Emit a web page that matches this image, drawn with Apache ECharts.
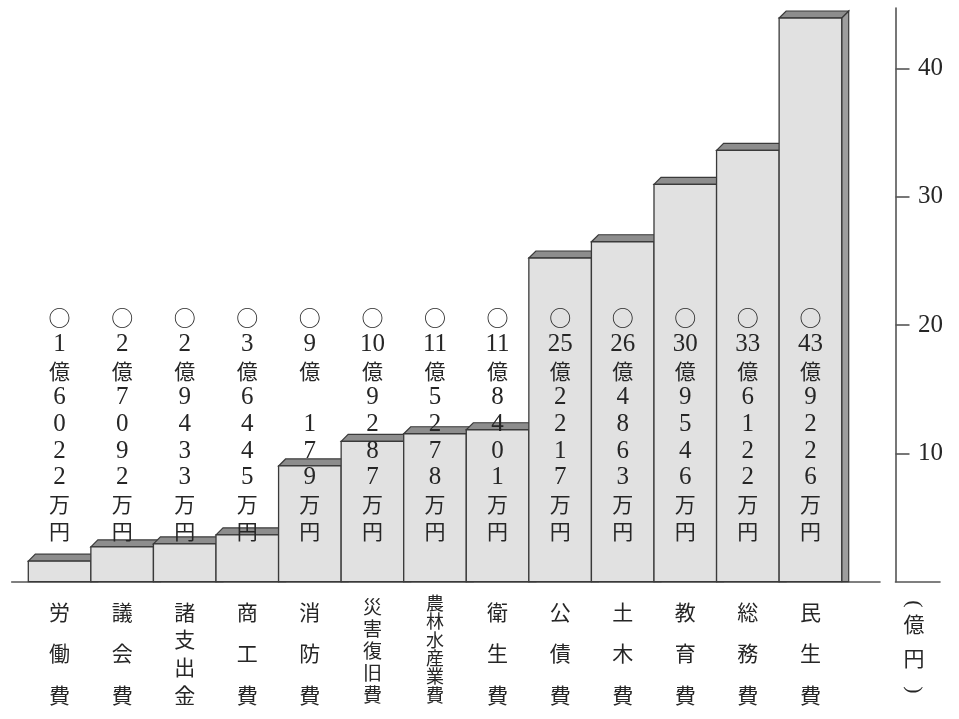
<!DOCTYPE html>
<html><head><meta charset="utf-8">
<script src="https://cdn.jsdelivr.net/npm/echarts@6/dist/echarts.min.js"></script>
<style>html,body{margin:0;padding:0;background:#fff}#c{width:959px;height:719px}</style>
</head><body><div id="c"></div>
<script>
// ---- data ----
const categories = ['労働費','議会費','諸支出金','商工費','消防費','災害復旧費','農林水産業費','衛生費','公債費','土木費','教育費','総務費','民生費'];
const amountsMan = [16022, 27092, 29433, 36445, 90179, 109287, 115278, 118401, 252217, 264863, 309546, 336122, 439226]; // 万円
const yTicks = [10, 20, 30, 40];
const yTickInterval = 10;
const yMin = 0;
const yMax = 44.7;
const unitChars = ['(', '億', '円', ')'];

const values = amountsMan.map(v => v / 10000); // 億円

const SERIF = "'Liberation Serif', 'DejaVu Serif', serif";
const JP = "'Noto Sans CJK JP', sans-serif";
const TXT = '#262626';

function amountLabel(man) {
  const oku = Math.floor(man / 10000);
  const rest = String(man % 10000).padStart(4, ' ');
  const parts = ['{c|○}', '{d|' + oku + '}', '{k|億}'];
  for (const ch of rest) parts.push('{d|' + ch + '}');
  parts.push('{k|万}', '{k|円}');
  return parts.join('\n');
}
const amountRich = {
  c: {fontFamily: JP, fontSize: 22, lineHeight: 26.6, fill: TXT},
  d: {fontFamily: SERIF, fontSize: 25, lineHeight: 26.6, fill: TXT},
  k: {fontFamily: JP, fontSize: 21, lineHeight: 26.6, fill: TXT}
};

const GRID_TOP = 8, GRID_BOTTOM = 137.3;

const chart = echarts.init(document.getElementById('c'), null, {renderer: 'canvas'});
chart.setOption({
  animation: false,
  backgroundColor: '#ffffff',
  grid: [
    {left: 28.3, right: 117.3, top: GRID_TOP, bottom: GRID_BOTTOM},
    {left: 11.7, right: 79, top: GRID_TOP, bottom: GRID_BOTTOM},
    {left: 895.5, right: 19, top: GRID_TOP, bottom: GRID_BOTTOM}
  ],
  xAxis: [
    {
      type: 'category', gridIndex: 0, data: categories,
      axisLine: {show: false}, axisTick: {show: false},
      axisLabel: {
        interval: 0, margin: 9.5, color: TXT, fontFamily: JP,
        formatter: function (val) {
          const n = val.length;
          const chars = val.split('').map(ch => '{n' + n + '|' + ch + '}').join('\n');
          return n > 3 ? '{s' + n + '| }\n' + chars : chars;
        },
        rich: {
          n3: {fontSize: 21, lineHeight: 41.5, fontFamily: JP, color: TXT},
          n4: {fontSize: 21, lineHeight: 27.8, fontFamily: JP, color: TXT},
          n5: {fontSize: 19, lineHeight: 22.1, fontFamily: JP, color: TXT},
          n6: {fontSize: 18, lineHeight: 18.4, fontFamily: JP, color: TXT},
          s4: {fontSize: 4, lineHeight: 6.5},
          s5: {fontSize: 4, lineHeight: 4.4},
          s6: {fontSize: 2, lineHeight: 2.5}
        }
      },
      splitLine: {show: false}
    },
    {
      type: 'value', gridIndex: 1, min: 0, max: 1,
      axisLine: {show: true, lineStyle: {color: '#555', width: 1.6}},
      axisTick: {show: false}, axisLabel: {show: false}, splitLine: {show: false}
    },
    {
      type: 'value', gridIndex: 2, min: 0, max: 1,
      axisLine: {show: true, lineStyle: {color: '#555', width: 1.6}},
      axisTick: {show: false}, axisLabel: {show: false}, splitLine: {show: false}
    }
  ],
  yAxis: [
    {type: 'value', gridIndex: 0, min: yMin, max: yMax, show: false},
    {type: 'value', gridIndex: 1, min: yMin, max: yMax, show: false},
    {
      type: 'value', gridIndex: 2, min: yMin, max: yMax, interval: yTickInterval,
      position: 'left',
      axisLine: {show: true, lineStyle: {color: '#555', width: 1.6}},
      axisTick: {show: true, inside: true, length: 14, customValues: yTicks, lineStyle: {color: '#555', width: 1.6}},
      axisLabel: {
        inside: true, margin: 22.5, color: TXT, fontFamily: SERIF, fontSize: 25,
        customValues: yTicks,
        formatter: v => (yTicks.indexOf(v) >= 0 ? String(v) : '')
      },
      splitLine: {show: false}
    }
  ],
  series: [{
    type: 'custom',
    xAxisIndex: 0, yAxisIndex: 0,
    data: values.map((v, i) => [i, v]),
    encode: {x: 0, y: 1},
    renderItem: function (params, api) {
      const idx = api.value(0);
      const v = api.value(1);
      const top = api.coord([idx, v]);
      const base = api.coord([idx, 0]);
      const w = api.size([1, 0])[0];
      const x0 = top[0] - w / 2, x1 = top[0] + w / 2;
      const yt = top[1], yb = base[1];
      const dx = 7, dy = 7;
      const stroke = '#3a3a3a';
      const cs = params.coordSys;
      return {
        type: 'group',
        children: [
          {type: 'polygon', shape: {points: [[x1, yt], [x1 + dx, yt - dy], [x1 + dx, yb], [x1, yb]]},
           style: {fill: '#9e9e9e', stroke: stroke, lineWidth: 1.2}},
          {type: 'polygon', shape: {points: [[x0, yt], [x0 + dx, yt - dy], [x1 + dx, yt - dy], [x1, yt]]},
           style: {fill: '#8d8d8d', stroke: stroke, lineWidth: 1.2}},
          {type: 'rect', shape: {x: x0, y: yt, width: w, height: yb - yt},
           style: {fill: '#e1e1e1', stroke: stroke, lineWidth: 1.3}},
          {type: 'text', z2: 10,
           style: {text: amountLabel(amountsMan[idx]), x: top[0], y: cs.y + 296.7,
                   align: 'center', verticalAlign: 'top', rich: amountRich, fill: TXT}}
        ]
      };
    }
  }],
  graphic: [
    {type: 'text', rotation: -Math.PI / 2, x: 914, y: 604,
     style: {text: unitChars[0], fontFamily: SERIF, fontSize: 22, fill: TXT, align: 'center', verticalAlign: 'middle'}},
    {type: 'text', x: 914, y: 624,
     style: {text: unitChars[1], fontFamily: JP, fontSize: 21, fill: TXT, align: 'center', verticalAlign: 'middle'}},
    {type: 'text', x: 914, y: 658,
     style: {text: unitChars[2], fontFamily: JP, fontSize: 21, fill: TXT, align: 'center', verticalAlign: 'middle'}},
    {type: 'text', rotation: -Math.PI / 2, x: 914, y: 690,
     style: {text: unitChars[3], fontFamily: SERIF, fontSize: 22, fill: TXT, align: 'center', verticalAlign: 'middle'}}
  ]
});
</script></body></html>
